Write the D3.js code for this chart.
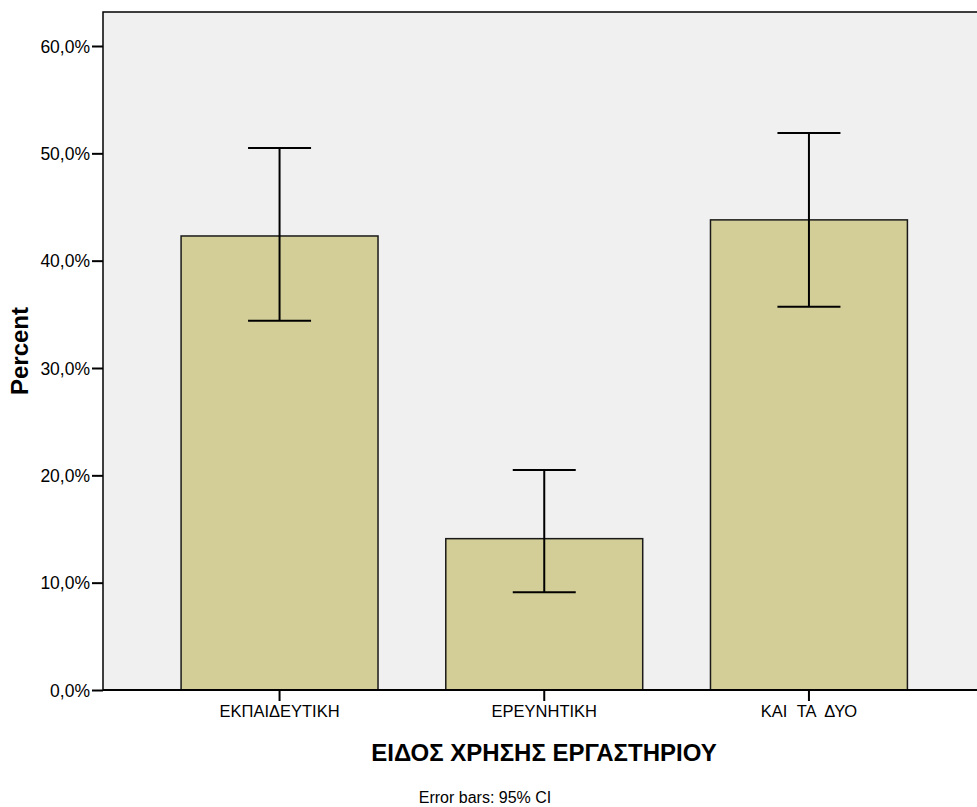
<!DOCTYPE html>
<html><head><meta charset="utf-8">
<script src="https://cdn.jsdelivr.net/npm/d3@7"></script>
<style>body{margin:0;background:#fff}svg{display:block;font-family:"Liberation Sans",Arial,sans-serif}</style>
</head><body>
<svg id="c" width="977" height="807"></svg>
<script>
const categories = ["ΕΚΠΑΙΔΕΥΤΙΚΗ", "ΕΡΕΥΝΗΤΙΚΗ", "ΚΑΙ ΤΑ ΔΥΟ"];
const percents = [42.3, 14.1, 43.8];
const ciLow = [34.4, 9.1, 35.7];
const ciHigh = [50.5, 20.5, 51.9];
const yTicks = [0, 10, 20, 30, 40, 50, 60];

(function () {
const svg = d3.select("#c");
const pL = 103, pR = 985.5, pT = 12, pB = 690;
const x = d3.scaleBand().domain(categories).range([pL, pR]).paddingInner(0.256).paddingOuter(0.295);
const y = d3.scaleLinear().domain([0, 60]).range([pB, 46]);

svg.append("rect").attr("x", pL).attr("y", pT).attr("width", pR - pL).attr("height", pB - pT)
  .attr("fill", "#f0f0f0").attr("stroke", "#000").attr("stroke-width", 1.5);

svg.selectAll(".bar").data(categories).join("rect")
  .attr("x", d => x(d)).attr("y", (d, i) => y(percents[i]))
  .attr("width", x.bandwidth()).attr("height", (d, i) => pB - y(percents[i]))
  .attr("fill", "#d3ce97").attr("stroke", "#1a1a1a").attr("stroke-width", 1.5);

const cap = 63;
const eb = svg.append("g").attr("stroke", "#000").attr("stroke-width", 2);
categories.forEach((c, i) => {
  const cx = x(c) + x.bandwidth() / 2;
  eb.append("line").attr("x1", cx).attr("x2", cx).attr("y1", y(ciLow[i])).attr("y2", y(ciHigh[i]));
  eb.append("line").attr("x1", cx - cap / 2).attr("x2", cx + cap / 2).attr("y1", y(ciLow[i])).attr("y2", y(ciLow[i]));
  eb.append("line").attr("x1", cx - cap / 2).attr("x2", cx + cap / 2).attr("y1", y(ciHigh[i])).attr("y2", y(ciHigh[i]));
});

const yAxis = d3.axisLeft(y).tickValues(yTicks).tickSize(11).tickPadding(2)
  .tickFormat(d => d.toFixed(1).replace(".", ",") + "%");
const gy = svg.append("g").attr("transform", `translate(${pL},0)`).call(yAxis);
gy.select(".domain").remove();
gy.selectAll("line").attr("stroke", "#000").attr("stroke-width", 2);
gy.selectAll("text").attr("font-size", 17.5).attr("fill", "#000").attr("dy", "0.36em");

const xAxis = d3.axisBottom(x).tickSize(11).tickPadding(4);
const gx = svg.append("g").attr("transform", `translate(0,${pB})`).call(xAxis);
gx.select(".domain").remove();
gx.selectAll("line").attr("stroke", "#000").attr("stroke-width", 2);
gx.selectAll("text").attr("font-size", 16.5).attr("fill", "#000").attr("word-spacing", "5px");

svg.append("line").attr("x1", pL).attr("x2", pR).attr("y1", pB).attr("y2", pB)
  .attr("stroke", "#000").attr("stroke-width", 2);

svg.append("text").attr("transform", "translate(28,351) rotate(-90)").attr("text-anchor", "middle")
  .attr("font-size", 24).attr("font-weight", "bold").text("Percent");
svg.append("text").attr("x", 544).attr("y", 761).attr("text-anchor", "middle")
  .attr("font-size", 24).attr("font-weight", "bold").text("ΕΙΔΟΣ ΧΡΗΣΗΣ ΕΡΓΑΣΤΗΡΙΟΥ");
svg.append("text").attr("x", 485).attr("y", 803).attr("text-anchor", "middle")
  .attr("font-size", 16).text("Error bars: 95% CI");
})();
</script>
</body></html>
